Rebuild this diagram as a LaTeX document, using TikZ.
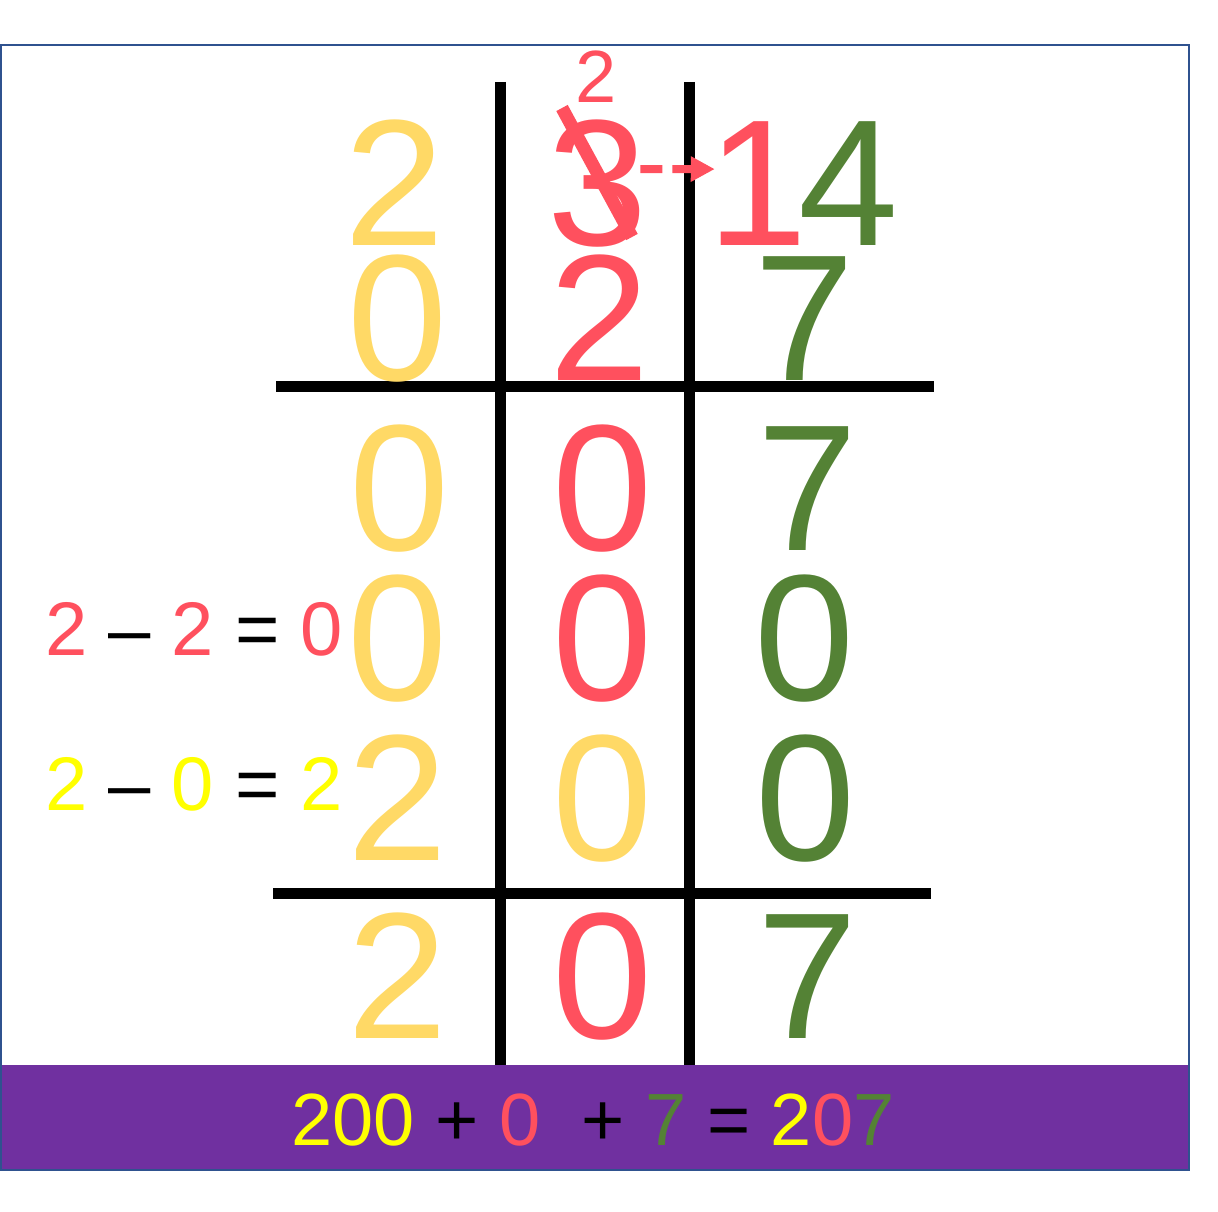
\documentclass[tikz,border=0pt]{standalone}
\usepackage{fontspec}
\setmainfont{Liberation Sans}
\usetikzlibrary{arrows.meta,positioning,calc}
\definecolor{PlaceGold}{RGB}{255,217,102}
\definecolor{PlaceRed}{RGB}{255,80,94}
\definecolor{PlaceGreen}{RGB}{84,130,53}
\definecolor{PlaceYellow}{RGB}{255,255,0}
\definecolor{PlacePurple}{RGB}{112,48,160}
\definecolor{FrameBlue}{RGB}{47,82,143}

\begin{document}
\begin{tikzpicture}[x=1pt, y=-1pt]
  \tikzstyle{digit} = [inner sep=0pt, anchor=base, font=\fontsize{180}{180}\selectfont]
  \tikzstyle{carry} = [inner sep=0pt, anchor=base, font=\fontsize{74}{74}\selectfont]
  \tikzstyle{sum} = [inner sep=0pt, anchor=base west, font=\fontsize{76}{76}\selectfont]
  \tikzstyle{rule} = [line width=11pt, black]

  \useasboundingbox (0,0) rectangle (1218,1212);

  % grid lines
  \draw[rule] (500,82) -- (500,1065);
  \draw[rule] (689,82) -- (689,1065);
  \draw[rule] (276,386) -- (934,386);
  \draw[rule] (273,893) -- (931,893);

  % first row: 2314
  \node[digit, text=PlaceGold] (thousands) at (395,245) {2};
  \node[digit, text=PlaceRed] (three) at (598,245) {3};
  \node[digit, text=PlaceRed] (one) at (758,245) {1};
  \node[digit, text=PlaceGreen] (four) at (849,245) {4};
  \node[carry, text=PlaceRed] (newtwo) at (596,103) {2};
  \draw[PlaceRed, line width=13pt] ($(three.base)+(-36,-137)$) -- ($(three.base)+(34,-8)$);
  \draw[PlaceRed, line width=8pt, dash pattern=on 22pt off 10pt, -{Triangle[length=24pt, width=24pt]}]
    ([xshift=-8pt, yshift=14pt]three.east) -- ([xshift=7pt, yshift=14pt]one.west);

  % second row: 027
  \node[digit, text=PlaceGold] (r2a) at (398,380) {0};
  \node[digit, text=PlaceRed] (r2b) at (600,380) {2};
  \node[digit, text=PlaceGreen] (r2c) at (805,380) {7};

  % third row: 007
  \node[digit, text=PlaceGold] (r3a) at (400,550) {0};
  \node[digit, text=PlaceRed] (r3b) at (603,550) {0};
  \node[digit, text=PlaceGreen] (r3c) at (808,550) {7};

  % fourth row: 000
  \node[digit, text=PlaceGold] (r4a) at (398,700) {0};
  \node[digit, text=PlaceRed] (r4b) at (603,700) {0};
  \node[digit, text=PlaceGreen] (r4c) at (805,700) {0};

  % fifth row: 200
  \node[digit, text=PlaceGold] (r5a) at (398,860) {2};
  \node[digit, text=PlaceGold] (r5b) at (603,860) {0};
  \node[digit, text=PlaceGreen] (r5c) at (806,860) {0};

  % answer row: 207
  \node[digit, text=PlaceGold] (r6a) at (398,1038) {2};
  \node[digit, text=PlaceRed] (r6b) at (603,1038) {0};
  \node[digit, text=PlaceGreen] (r6c) at (808,1038) {7};

  % side working
  \node[sum] (redsum) at (45,655) {\textcolor{PlaceRed}{2} – \textcolor{PlaceRed}{2} = \textcolor{PlaceRed}{0}};
  \node[sum] (goldsum) at (45,810) {\textcolor{PlaceYellow}{2} – \textcolor{PlaceYellow}{0} = \textcolor{PlaceYellow}{2}};

  % total bar
  \fill[PlacePurple] (1,1065) rectangle (1189,1170);
  \draw[FrameBlue, line width=2pt] (1,45) rectangle (1189,1170);
  \node[carry] (total) at (593,1145) {\textcolor{PlaceYellow}{200} + \textcolor{PlaceRed}{0}\ \ + \textcolor{PlaceGreen}{7} = \textcolor{PlaceYellow}{2}\textcolor{PlaceRed}{0}\textcolor{PlaceGreen}{7}};
\end{tikzpicture}
\end{document}
